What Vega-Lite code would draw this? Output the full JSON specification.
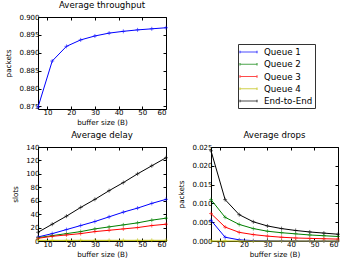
{
  "$schema": "https://vega.github.io/schema/vega-lite/v6.json",
  "padding": {"left": 4, "top": 0, "right": 0, "bottom": 0},
  "background": "white",
  "bounds": "flush",
  "spacing": 38,
  "config": {
    "font": "DejaVu Sans",
    "view": {"stroke": "black", "strokeWidth": 1},
    "title": {"fontSize": 8.6, "fontWeight": "normal", "offset": 3, "color": "black"},
    "axis": {
      "grid": false,
      "domain": false,
      "tickSize": -3,
      "tickColor": "black",
      "labelFontSize": 7,
      "labelColor": "black",
      "titleFontSize": 7.2,
      "titleFontWeight": "normal",
      "titleColor": "black",
      "labelPadding": 2
    },
    "axisX": {"titlePadding": 3},
    "axisY": {"titlePadding": 6},
    "legend": {
      "labelFontSize": 8.7,
      "labelColor": "black"
    }
  },
  "datasets": {
    "tp": [
      {"x": 6, "y": 0.8748}, {"x": 12, "y": 0.8877}, {"x": 18, "y": 0.8918},
      {"x": 24, "y": 0.8936}, {"x": 30, "y": 0.8947}, {"x": 36, "y": 0.8955},
      {"x": 42, "y": 0.8960}, {"x": 48, "y": 0.8964}, {"x": 54, "y": 0.8967},
      {"x": 60, "y": 0.8970}
    ],
    "delay": [
      {"x": 6, "s": "Queue 1", "y": 6}, {"x": 12, "s": "Queue 1", "y": 11}, {"x": 18, "s": "Queue 1", "y": 17}, {"x": 24, "s": "Queue 1", "y": 23}, {"x": 30, "s": "Queue 1", "y": 29}, {"x": 36, "s": "Queue 1", "y": 36}, {"x": 42, "s": "Queue 1", "y": 43}, {"x": 48, "s": "Queue 1", "y": 49}, {"x": 54, "s": "Queue 1", "y": 56}, {"x": 60, "s": "Queue 1", "y": 62},
      {"x": 6, "s": "Queue 2", "y": 5}, {"x": 12, "s": "Queue 2", "y": 8}, {"x": 18, "s": "Queue 2", "y": 11}, {"x": 24, "s": "Queue 2", "y": 14}, {"x": 30, "s": "Queue 2", "y": 18}, {"x": 36, "s": "Queue 2", "y": 21}, {"x": 42, "s": "Queue 2", "y": 24}, {"x": 48, "s": "Queue 2", "y": 27}, {"x": 54, "s": "Queue 2", "y": 31}, {"x": 60, "s": "Queue 2", "y": 34},
      {"x": 6, "s": "Queue 3", "y": 4}, {"x": 12, "s": "Queue 3", "y": 7}, {"x": 18, "s": "Queue 3", "y": 9}, {"x": 24, "s": "Queue 3", "y": 11}, {"x": 30, "s": "Queue 3", "y": 14}, {"x": 36, "s": "Queue 3", "y": 16}, {"x": 42, "s": "Queue 3", "y": 18}, {"x": 48, "s": "Queue 3", "y": 20}, {"x": 54, "s": "Queue 3", "y": 23}, {"x": 60, "s": "Queue 3", "y": 25},
      {"x": 6, "s": "Queue 4", "y": 1}, {"x": 12, "s": "Queue 4", "y": 1}, {"x": 18, "s": "Queue 4", "y": 1}, {"x": 24, "s": "Queue 4", "y": 1}, {"x": 30, "s": "Queue 4", "y": 1}, {"x": 36, "s": "Queue 4", "y": 1}, {"x": 42, "s": "Queue 4", "y": 1}, {"x": 48, "s": "Queue 4", "y": 1}, {"x": 54, "s": "Queue 4", "y": 1}, {"x": 60, "s": "Queue 4", "y": 1},
      {"x": 6, "s": "End-to-End", "y": 13}, {"x": 12, "s": "End-to-End", "y": 25}, {"x": 18, "s": "End-to-End", "y": 37}, {"x": 24, "s": "End-to-End", "y": 50}, {"x": 30, "s": "End-to-End", "y": 62}, {"x": 36, "s": "End-to-End", "y": 75}, {"x": 42, "s": "End-to-End", "y": 87}, {"x": 48, "s": "End-to-End", "y": 100}, {"x": 54, "s": "End-to-End", "y": 112}, {"x": 60, "s": "End-to-End", "y": 124}
    ],
    "drops": [
      {"x": 6, "s": "Queue 1", "y": 0.0055}, {"x": 12, "s": "Queue 1", "y": 0.001}, {"x": 18, "s": "Queue 1", "y": 0.0003}, {"x": 24, "s": "Queue 1", "y": 0.0001}, {"x": 30, "s": "Queue 1", "y": 0.00005}, {"x": 36, "s": "Queue 1", "y": 0.00002}, {"x": 42, "s": "Queue 1", "y": 0.00001}, {"x": 48, "s": "Queue 1", "y": 0}, {"x": 54, "s": "Queue 1", "y": 0}, {"x": 60, "s": "Queue 1", "y": 0},
      {"x": 6, "s": "Queue 2", "y": 0.011}, {"x": 12, "s": "Queue 2", "y": 0.0063}, {"x": 18, "s": "Queue 2", "y": 0.0044}, {"x": 24, "s": "Queue 2", "y": 0.0033}, {"x": 30, "s": "Queue 2", "y": 0.0026}, {"x": 36, "s": "Queue 2", "y": 0.0022}, {"x": 42, "s": "Queue 2", "y": 0.0019}, {"x": 48, "s": "Queue 2", "y": 0.0016}, {"x": 54, "s": "Queue 2", "y": 0.0014}, {"x": 60, "s": "Queue 2", "y": 0.0012},
      {"x": 6, "s": "Queue 3", "y": 0.0073}, {"x": 12, "s": "Queue 3", "y": 0.0037}, {"x": 18, "s": "Queue 3", "y": 0.0023}, {"x": 24, "s": "Queue 3", "y": 0.0017}, {"x": 30, "s": "Queue 3", "y": 0.0013}, {"x": 36, "s": "Queue 3", "y": 0.001}, {"x": 42, "s": "Queue 3", "y": 0.0008}, {"x": 48, "s": "Queue 3", "y": 0.0007}, {"x": 54, "s": "Queue 3", "y": 0.0006}, {"x": 60, "s": "Queue 3", "y": 0.0005},
      {"x": 6, "s": "Queue 4", "y": 0}, {"x": 12, "s": "Queue 4", "y": 0}, {"x": 18, "s": "Queue 4", "y": 0}, {"x": 24, "s": "Queue 4", "y": 0}, {"x": 30, "s": "Queue 4", "y": 0}, {"x": 36, "s": "Queue 4", "y": 0}, {"x": 42, "s": "Queue 4", "y": 0}, {"x": 48, "s": "Queue 4", "y": 0}, {"x": 54, "s": "Queue 4", "y": 0}, {"x": 60, "s": "Queue 4", "y": 0},
      {"x": 6, "s": "End-to-End", "y": 0.024}, {"x": 12, "s": "End-to-End", "y": 0.011}, {"x": 18, "s": "End-to-End", "y": 0.007}, {"x": 24, "s": "End-to-End", "y": 0.0051}, {"x": 30, "s": "End-to-End", "y": 0.004}, {"x": 36, "s": "End-to-End", "y": 0.0033}, {"x": 42, "s": "End-to-End", "y": 0.0028}, {"x": 48, "s": "End-to-End", "y": 0.0024}, {"x": 54, "s": "End-to-End", "y": 0.0021}, {"x": 60, "s": "End-to-End", "y": 0.0018}
    ]
  },
  "vconcat": [
    {
      "title": "Average throughput",
      "width": 128,
      "height": 92,
      "data": {"name": "tp"},
      "resolve": {"axis": {"x": "independent", "y": "independent"}},
      "layer": [
        {
          "mark": {"type": "line", "color": "#0000ff", "strokeWidth": 1},
          "encoding": {
            "x": {"field": "x", "type": "quantitative", "title": "buffer size (B)", "scale": {"domain": [6, 60], "nice": false, "zero": false}, "axis": {"values": [10, 20, 30, 40, 50, 60]}},
            "y": {"field": "y", "type": "quantitative", "title": "packets", "scale": {"domain": [0.8743, 0.9], "nice": false, "zero": false}, "axis": {"values": [0.875, 0.88, 0.885, 0.89, 0.895, 0.9], "format": ".3f"}}
          }
        },
        {
          "mark": {"type": "point", "shape": "M-1,0L1,0M0,-1L0,1", "filled": false, "color": "#0000ff", "size": 16, "strokeWidth": 0.8},
          "encoding": {
            "x": {"field": "x", "type": "quantitative", "scale": {"domain": [6, 60], "nice": false, "zero": false}, "axis": {"orient": "top", "values": [10, 20, 30, 40, 50, 60], "labels": false, "title": null}},
            "y": {"field": "y", "type": "quantitative", "scale": {"domain": [0.8743, 0.9], "nice": false, "zero": false}, "axis": {"orient": "right", "values": [0.875, 0.88, 0.885, 0.89, 0.895, 0.9], "labels": false, "title": null}}
          }
        }
      ]
    },
    {
      "bounds": "flush",
      "spacing": 45,
      "hconcat": [
        {
          "title": "Average delay",
          "width": 128,
          "height": 94,
          "data": {"name": "delay"},
          "resolve": {"axis": {"x": "independent", "y": "independent"}},
          "layer": [
            {
              "mark": {"type": "line", "strokeWidth": 1},
              "encoding": {
                "x": {"field": "x", "type": "quantitative", "title": "buffer size (B)", "scale": {"domain": [6, 60], "nice": false, "zero": false}, "axis": {"values": [10, 20, 30, 40, 50, 60]}},
                "y": {"field": "y", "type": "quantitative", "title": "slots", "scale": {"domain": [0, 140], "nice": false}, "axis": {"values": [0, 20, 40, 60, 80, 100, 120, 140]}},
                "color": {"field": "s", "type": "nominal", "title": null,
                  "scale": {"domain": ["Queue 1", "Queue 2", "Queue 3", "Queue 4", "End-to-End"], "range": ["#0000ff", "#008000", "#ff0000", "#bfbf00", "#000000"]},
                  "legend": {"orient": "none", "legendX": 200, "legendY": 27, "symbolType": "M-1.2,0H2.2M-1.2,-0.25V0.25M2.2,-0.25V0.25", "symbolSize": 100, "symbolStrokeWidth": 1.2, "symbolFillColor": "transparent", "rowPadding": 1.25, "padding": 2, "strokeColor": "#333333", "fillColor": "white", "labelOffset": 12, "labelFontSize": 8.7}}
              }
            },
            {
              "mark": {"type": "point", "shape": "M-1,0L1,0M0,-1L0,1", "filled": false, "size": 16, "strokeWidth": 0.8},
              "encoding": {
                "x": {"field": "x", "type": "quantitative", "scale": {"domain": [6, 60], "nice": false, "zero": false}, "axis": {"orient": "top", "values": [10, 20, 30, 40, 50, 60], "labels": false, "title": null}},
                "y": {"field": "y", "type": "quantitative", "scale": {"domain": [0, 140], "nice": false}, "axis": {"orient": "right", "values": [0, 20, 40, 60, 80, 100, 120, 140], "labels": false, "title": null}},
                "color": {"field": "s", "type": "nominal", "legend": null}
              }
            }
          ]
        },
        {
          "title": "Average drops",
          "width": 127,
          "height": 94,
          "data": {"name": "drops"},
          "resolve": {"axis": {"x": "independent", "y": "independent"}},
          "layer": [
            {
              "mark": {"type": "line", "strokeWidth": 1},
              "encoding": {
                "x": {"field": "x", "type": "quantitative", "title": "buffer size (B)", "scale": {"domain": [6, 60], "nice": false, "zero": false}, "axis": {"values": [10, 20, 30, 40, 50, 60]}},
                "y": {"field": "y", "type": "quantitative", "title": "packets", "scale": {"domain": [0, 0.025], "nice": false}, "axis": {"values": [0, 0.005, 0.01, 0.015, 0.02, 0.025], "format": ".3f"}},
                "color": {"field": "s", "type": "nominal", "title": null,
                  "scale": {"domain": ["Queue 1", "Queue 2", "Queue 3", "Queue 4", "End-to-End"], "range": ["#0000ff", "#008000", "#ff0000", "#bfbf00", "#000000"]}}
              }
            },
            {
              "mark": {"type": "point", "shape": "M-1,0L1,0M0,-1L0,1", "filled": false, "size": 16, "strokeWidth": 0.8},
              "encoding": {
                "x": {"field": "x", "type": "quantitative", "scale": {"domain": [6, 60], "nice": false, "zero": false}, "axis": {"orient": "top", "values": [10, 20, 30, 40, 50, 60], "labels": false, "title": null}},
                "y": {"field": "y", "type": "quantitative", "scale": {"domain": [0, 0.025], "nice": false}, "axis": {"orient": "right", "values": [0, 0.005, 0.01, 0.015, 0.02, 0.025], "labels": false, "title": null}},
                "color": {"field": "s", "type": "nominal"}
              }
            }
          ]
        }
      ]
    }
  ]
}
